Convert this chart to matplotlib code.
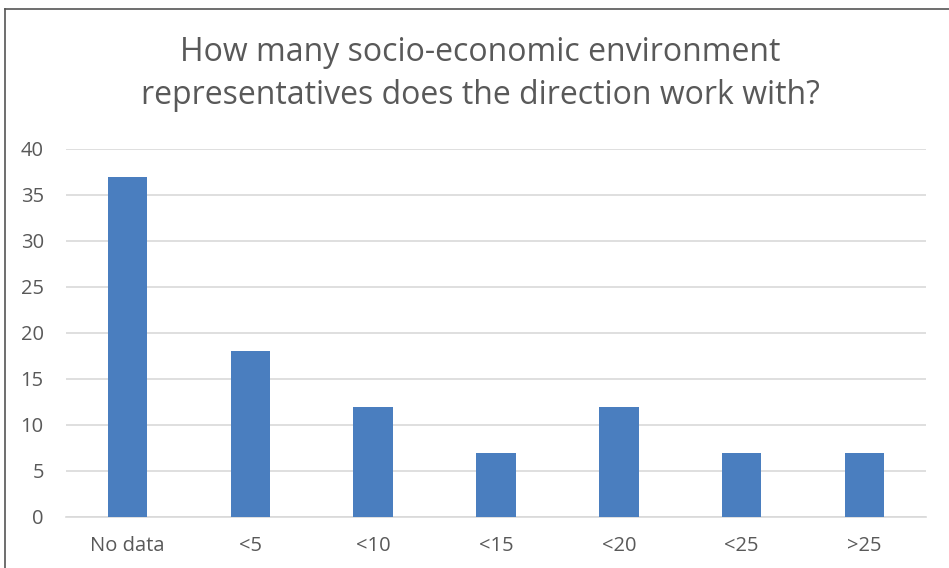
import matplotlib.pyplot as plt
from matplotlib.lines import Line2D
import numpy as np

categories = ['No data', '<5', '<10', '<15', '<20', '<25', '>25']
counts = [37, 18, 12, 7, 12, 7, 7]
y_ticks = [0, 5, 10, 15, 20, 25, 30, 35, 40]
title = 'How many socio-economic environment\nrepresentatives does the direction work with?'

plt.rcParams['font.family'] = ['Open Sans', 'DejaVu Sans']

fig = plt.figure(figsize=(9.49, 5.68), dpi=100)
W, H = 949, 568
# plot area in pixels: x 66..926, y 149..517
ax = fig.add_axes([66 / W, 1 - 517 / H, (926 - 66) / W, (517 - 149) / H])

x = np.arange(len(categories))
ax.bar(x, counts, width=0.32, color='#4a7ebf', zorder=3)

ax.set_xlim(-0.5, len(categories) - 0.5)
ax.set_ylim(0, 40)
ax.set_yticks(y_ticks)
ax.set_xticks(x)
ax.set_xticklabels(categories)
ax.tick_params(axis='both', length=0, labelsize=14.5, colors='#595959')
ax.tick_params(axis='x', pad=14)
ax.tick_params(axis='y', pad=16)
ax.yaxis.grid(True, color='#d9d9d9', linewidth=1.2, zorder=0)
for side in ['top', 'right', 'left']:
    ax.spines[side].set_visible(False)
ax.spines['bottom'].set_color('#d9d9d9')
ax.spines['bottom'].set_linewidth(1.2)

fig.text(480 / W, 1 - 74 / H, title, ha='center', va='center',
         fontsize=23, color='#595959', linespacing=1.42)

# outer frame: only top and left edges show
fig.add_artist(Line2D([5 / W, 1], [1 - 9 / H, 1 - 9 / H], color='#555555', linewidth=1.2))
fig.add_artist(Line2D([5 / W, 5 / W], [0, 1 - 9 / H], color='#555555', linewidth=1.2))

fig.savefig('out.png', dpi=100)
